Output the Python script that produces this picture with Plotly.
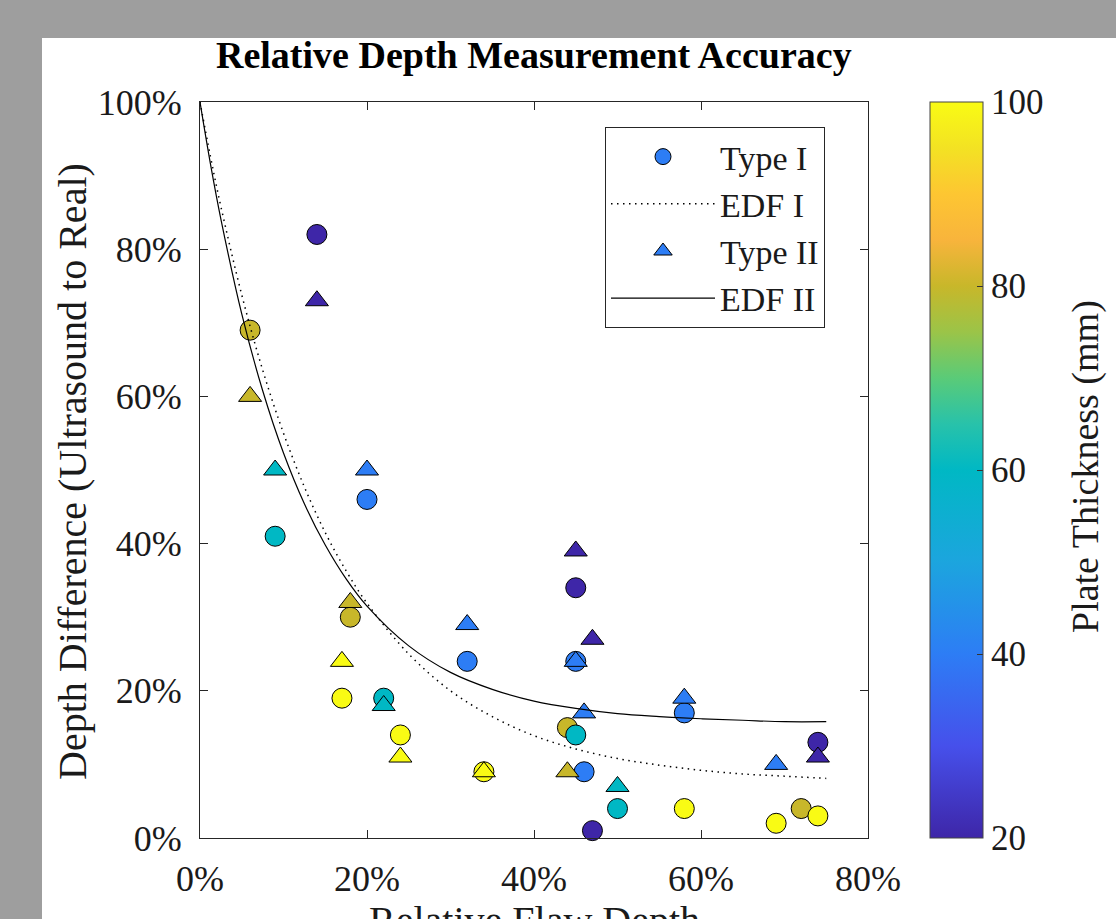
import plotly.graph_objects as go

# ---------------- data ----------------
type1_x = [6, 14, 9, 20, 18, 17, 22, 24, 34, 32, 45, 45, 44, 45, 46, 47, 50, 58, 58, 69, 72, 74, 74]
type1_y = [69, 82, 41, 46, 30, 19, 19, 14, 9, 24, 34, 24, 15, 14, 9, 1, 4, 4, 17, 2, 4, 3, 13]
type1_t = [80, 20, 60, 40, 80, 100, 60, 100, 100, 40, 20, 40, 80, 60, 40, 20, 60, 100, 40, 100, 80, 100, 20]

type2_x = [14, 6, 9, 20, 18, 17, 22, 24, 34, 32, 45, 47, 45, 46, 44, 50, 58, 69, 74]
type2_y = [73, 60, 50, 50, 32, 24, 18, 11, 9, 29, 39, 27, 24, 17, 9, 7, 19, 10, 11]
type2_t = [20, 80, 60, 40, 80, 100, 60, 100, 100, 40, 20, 20, 40, 40, 80, 60, 40, 40, 20]

edf_x = [0, 1.25, 2.5, 5, 7.5, 10, 12.5, 15, 17.5, 20, 25, 30, 35, 40, 45, 50, 55, 60, 65, 70, 75]
edf1_y = [100, 92.6, 85.8, 73.8, 63.6, 55.0, 47.7, 41.5, 36.3, 31.9, 25.0, 20.0, 16.5, 13.9, 12.1, 10.8, 9.9, 9.2, 8.7, 8.4, 8.1]
edf2_y = [100, 91.6, 84.1, 71.2, 60.8, 52.3, 45.4, 39.8, 35.2, 31.5, 26.1, 22.5, 20.2, 18.6, 17.6, 16.9, 16.5, 16.2, 16.0, 15.8, 15.8]

x_ticks = [0, 20, 40, 60, 80]
x_labels = ["0%", "20%", "40%", "60%", "80%"]
y_ticks = [0, 20, 40, 60, 80, 100]
y_labels = ["0%", "20%", "40%", "60%", "80%", "100%"]
cbar_ticks = [20, 40, 60, 80, 100]

# ---------------- style ----------------
FONT = "Liberation Serif, Times New Roman, serif"
INK = "#1a1a1a"
parula = [
    [0.0, "rgb(62,38,168)"], [0.125, "rgb(70,80,235)"], [0.25, "rgb(45,125,245)"],
    [0.375, "rgb(28,165,222)"], [0.5, "rgb(0,184,196)"], [0.5625, "rgb(40,194,170)"],
    [0.625, "rgb(90,203,120)"], [0.6875, "rgb(155,196,72)"], [0.75, "rgb(200,183,42)"],
    [0.8125, "rgb(248,180,60)"], [0.875, "rgb(253,198,50)"], [0.9375, "rgb(243,226,35)"],
    [1.0, "rgb(249,251,20)"],
]
LEG_BLUE = "rgb(45,125,245)"

fig = go.Figure()

fig.add_trace(go.Scatter(
    x=type1_x, y=type1_y, mode="markers", name="Type I", showlegend=False,
    cliponaxis=False,
    marker=dict(symbol="circle", size=20, color=type1_t, colorscale=parula,
                cmin=20, cmax=100, line=dict(color="black", width=1),
                showscale=True,
                colorbar=dict(
                    x=(930 - 200) / 668, xanchor="left", xref="paper",
                    y=0.5, yanchor="middle", len=1, lenmode="fraction",
                    thickness=53, thicknessmode="pixels", xpad=0, ypad=0,
                    outlinewidth=1, outlinecolor="#444",
                    tickvals=cbar_ticks, ticks="inside", ticklen=6, tickcolor="#333",
                    tickprefix=" ",
                    tickfont=dict(family=FONT, size=35, color=INK),
                )),
))
fig.add_trace(go.Scatter(
    x=type2_x, y=type2_y, mode="markers", name="Type II", showlegend=False,
    cliponaxis=False,
    marker=dict(symbol="triangle-up", size=20, color=type2_t, colorscale=parula,
                cmin=20, cmax=100, line=dict(color="black", width=1), showscale=False),
))
fig.add_trace(go.Scatter(
    x=edf_x, y=edf1_y, mode="lines", name="EDF I", legendrank=2,
    line=dict(color="black", width=1.5, dash="1.5px,4.5px", shape="spline"),
))
fig.add_trace(go.Scatter(
    x=edf_x, y=edf2_y, mode="lines", name="EDF II", legendrank=4,
    line=dict(color="black", width=1.2, shape="spline"),
))
# legend entries for the scatter series
fig.add_trace(go.Scatter(
    x=[None], y=[None], mode="markers", name="Type I", legendrank=1,
    marker=dict(symbol="circle", size=16, color=LEG_BLUE, line=dict(color="black", width=1)),
))
fig.add_trace(go.Scatter(
    x=[None], y=[None], mode="markers", name="Type II", legendrank=3,
    marker=dict(symbol="triangle-up", size=16, color=LEG_BLUE, line=dict(color="black", width=1)),
))

axis_common = dict(
    showline=True, linecolor="#262626", linewidth=1, mirror="ticks",
    ticks="inside", ticklen=8, tickcolor="#262626", tickwidth=1,
    showgrid=False, zeroline=False,
    tickfont=dict(family=FONT, size=36, color=INK),
)
fig.update_xaxes(range=[0, 80], tickmode="array", tickvals=x_ticks, ticktext=x_labels,
                 ticklabelstandoff=9, **axis_common)
fig.update_yaxes(range=[0, 100], tickmode="array", tickvals=y_ticks, ticktext=y_labels,
                 ticklabelstandoff=10, **axis_common)

fig.update_layout(
    width=1116, height=919,
    margin=dict(l=200, r=248, t=102, b=81, pad=0),
    paper_bgcolor="#9e9e9e", plot_bgcolor="white",
    font=dict(family=FONT, color=INK),
    legend=dict(
        x=(605 - 200) / 668, y=(838 - 127) / 736, xanchor="left", yanchor="top",
        bgcolor="white", bordercolor="#262626", borderwidth=1,
        font=dict(family=FONT, size=34, color=INK), itemwidth=104,
        tracegroupgap=0,
    ),
    shapes=[dict(type="rect", xref="paper", yref="paper", layer="below",
                 x0=(42 - 200) / 668, x1=1.5, y0=-0.3, y1=(838 - 38) / 736,
                 fillcolor="white", line=dict(width=0))],
    annotations=[
        dict(text="<b>Relative Depth Measurement Accuracy</b>", xref="paper", yref="paper",
             x=0.5, y=(838 - 55) / 736, xanchor="center", yanchor="middle", showarrow=False,
             font=dict(family=FONT, size=38, color="black")),
        dict(text="Depth Difference (Ultrasound to Real)", xref="paper", yref="paper",
             x=(72 - 200) / 668, y=(838 - 472) / 736, xanchor="center", yanchor="middle",
             textangle=-90, showarrow=False, font=dict(family=FONT, size=40, color=INK)),
        dict(text="Plate Thickness (mm)", xref="paper", yref="paper",
             x=(1085 - 200) / 668, y=(838 - 467) / 736, xanchor="center", yanchor="middle",
             textangle=-90, showarrow=False, font=dict(family=FONT, size=38, color=INK)),
        dict(text="Relative Flaw Depth", xref="paper", yref="paper",
             x=0.5, y=(838 - 896) / 736, xanchor="center", yanchor="top",
             showarrow=False, font=dict(family=FONT, size=40, color=INK)),
    ],
)

fig.write_html("out.html", config={"displayModeBar": False},
               post_script="document.body.style.margin='0';")
